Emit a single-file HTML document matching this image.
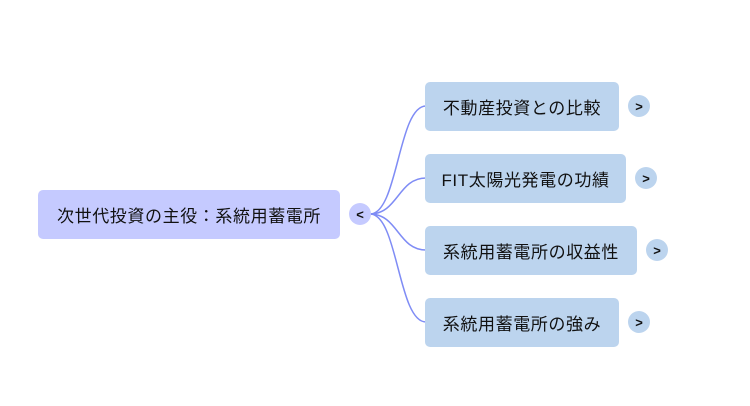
<!DOCTYPE html>
<html><head><meta charset="utf-8"><style>
body{margin:0;width:750px;height:406px;background:#fff;position:relative;overflow:hidden;font-family:"Liberation Sans","Noto Sans CJK JP",sans-serif;}
.b{position:absolute;border-radius:5px;display:flex;align-items:center;justify-content:center;font-size:17px;letter-spacing:0.6px;color:#111;}
.c{position:absolute;width:22px;height:22px;border-radius:50%;display:flex;align-items:center;justify-content:center;font-size:13px;font-weight:bold;color:#111;}
</style></head><body>
<svg width="750" height="406" style="position:absolute;left:0;top:0">
<g fill="none" stroke="#7f8cf5" stroke-width="1.5">
<path d="M370 214 C398 214 398 106 426 106"/>
<path d="M370 214 C398 214 398 178 426 178"/>
<path d="M370 214 C398 214 398 250 426 250"/>
<path d="M370 214 C398 214 398 322 426 322"/>
</g></svg>
<div class="b" style="left:38px;top:190px;width:302px;height:49px;background:#c5caff">次世代投資の主役：系統用蓄電所</div>
<div class="c" style="left:349px;top:203px;background:#c5caff">&lt;</div>
<div class="b" style="left:425px;top:82px;width:194px;height:49px;background:#bcd4ee">不動産投資との比較</div>
<div class="c" style="left:628px;top:95px;background:#bcd4ee">&gt;</div>
<div class="b" style="left:425px;top:154px;width:201px;height:49px;background:#bcd4ee">FIT太陽光発電の功績</div>
<div class="c" style="left:635px;top:167px;background:#bcd4ee">&gt;</div>
<div class="b" style="left:425px;top:226px;width:212px;height:49px;background:#bcd4ee">系統用蓄電所の収益性</div>
<div class="c" style="left:646px;top:239px;background:#bcd4ee">&gt;</div>
<div class="b" style="left:425px;top:298px;width:194px;height:49px;background:#bcd4ee">系統用蓄電所の強み</div>
<div class="c" style="left:628px;top:311px;background:#bcd4ee">&gt;</div>
</body></html>
